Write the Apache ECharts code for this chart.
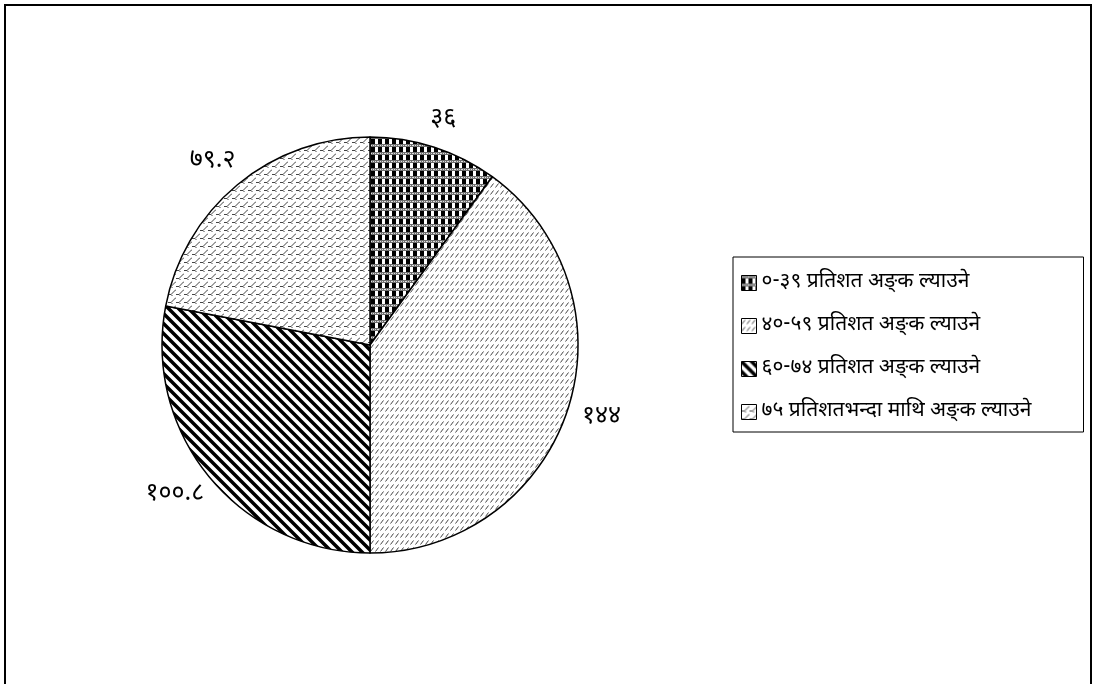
<!DOCTYPE html>
<html>
<head>
<meta charset="utf-8">
<script src="https://cdn.jsdelivr.net/npm/echarts@6/dist/echarts.min.js"></script>
<style>
  html, body { margin: 0; padding: 0; background: #fff; }
  #chart { width: 1096px; height: 684px; }
</style>
</head>
<body>
<div id="chart"></div>
<script>
// बाँडफाँड (डिग्रीमा)
const categories = [
  '०-३९ प्रतिशत अङ्\u200Cक ल्याउने',
  '४०-५९ प्रतिशत अङ्\u200Cक ल्याउने',
  '६०-७४ प्रतिशत अङ्\u200Cक ल्याउने',
  '७५ प्रतिशतभन्दा माथि अङ्\u200Cक ल्याउने'
];
const values = [36, 144, 100.8, 79.2];
const valueLabels = ['३६', '१४४', '१००.८', '७९.२'];

const FONT = '"Noto Sans Devanagari", "Lohit Devanagari", "Mangal", "Kalimati", serif';
const CENTER = [370, 345];
const RADIUS = 208;
const LABEL_GAP = 16;

// pattern tiles
const makeTile = (w, h, draw) => {
  const c = document.createElement('canvas');
  c.width = w; c.height = h;
  const ctx = c.getContext('2d');
  ctx.fillStyle = '#fff';
  ctx.fillRect(0, 0, w, h);
  draw(ctx, w, h);
  return { image: c, repeat: 'repeat' };
};

const checker = makeTile(7, 8, (ctx) => {
  ctx.fillStyle = '#000';
  ctx.fillRect(0, 3, 4, 5);
  ctx.fillStyle = '#6e6e6e';
  ctx.fillRect(0, 0, 7, 3);
  ctx.fillStyle = '#ddd';
  for (let x = 0; x < 7; x += 2) ctx.fillRect(x, 1, 1, 1);
});

const fineDiag = makeTile(5, 7, (ctx) => {
  ctx.strokeStyle = '#444';
  ctx.lineWidth = 1;
  ctx.beginPath();
  ctx.moveTo(0.5, 5.5);
  ctx.lineTo(3.5, 1.5);
  ctx.stroke();
});

const boldDiag = makeTile(10, 10, (ctx) => {
  ctx.strokeStyle = '#000';
  ctx.lineWidth = 3.5;
  ctx.beginPath();
  ctx.moveTo(-2, -2); ctx.lineTo(12, 12);
  ctx.moveTo(-7, 3); ctx.lineTo(7, 17);
  ctx.moveTo(3, -7); ctx.lineTo(17, 7);
  ctx.stroke();
});

const brick = makeTile(8, 8, (ctx) => {
  ctx.strokeStyle = '#444';
  ctx.lineWidth = 1;
  ctx.beginPath();
  ctx.moveTo(0, 6.5); ctx.lineTo(3, 6.5); ctx.lineTo(7.5, 2); ctx.lineTo(8, 2);
  ctx.moveTo(3, 6.5); ctx.lineTo(4.5, 8);
  ctx.stroke();
});

const fills = [checker, fineDiag, boldDiag, brick];

// mid angle of each slice (clockwise from top)
const total = values.reduce((a, b) => a + b, 0);
const midAngles = [];
values.reduce((acc, v) => {
  midAngles.push((acc + v / 2) / total * 2 * Math.PI);
  return acc + v;
}, 0);

const chart = echarts.init(document.getElementById('chart'));
chart.setOption({
  backgroundColor: '#fff',
  animation: false,
  graphic: [{
    type: 'rect',
    shape: { x: 5, y: 5, width: 1086, height: 720 },
    style: { fill: 'none', stroke: '#000', lineWidth: 2 }
  }],
  legend: {
    orient: 'vertical',
    left: 733,
    top: 257,
    padding: [14, 6, 8, 8],
    itemGap: 19,
    itemWidth: 15,
    itemHeight: 15,
    borderColor: '#000',
    borderWidth: 1,
    icon: 'rect',
    itemStyle: { borderColor: '#000', borderWidth: 1 },
    textStyle: {
      fontFamily: FONT, fontSize: 21, color: '#000',
      width: 316, lineHeight: 24, overflow: 'none'
    },
    data: categories
  },
  series: [{
    type: 'pie',
    center: CENTER,
    radius: RADIUS,
    startAngle: 90,
    clockwise: true,
    avoidLabelOverlap: false,
    silent: true,
    itemStyle: { borderColor: '#000', borderWidth: 1.5 },
    label: {
      show: true,
      position: 'outside',
      fontFamily: FONT,
      fontSize: 25,
      color: '#000',
      formatter: (p) => valueLabels[p.dataIndex]
    },
    labelLine: { show: false },
    labelLayout: (p) => {
      const a = midAngles[p.dataIndex];
      const ux = Math.sin(a), uy = -Math.cos(a);
      const w = p.labelRect.width, h = p.labelRect.height;
      return {
        x: CENTER[0] + ux * (RADIUS + w / 2 + LABEL_GAP),
        y: CENTER[1] + uy * (RADIUS + h / 2 + LABEL_GAP),
        align: 'center',
        verticalAlign: 'middle'
      };
    },
    data: categories.map((name, i) => ({
      name: name,
      value: values[i],
      itemStyle: { color: fills[i] }
    }))
  }]
});
</script>
</body>
</html>
